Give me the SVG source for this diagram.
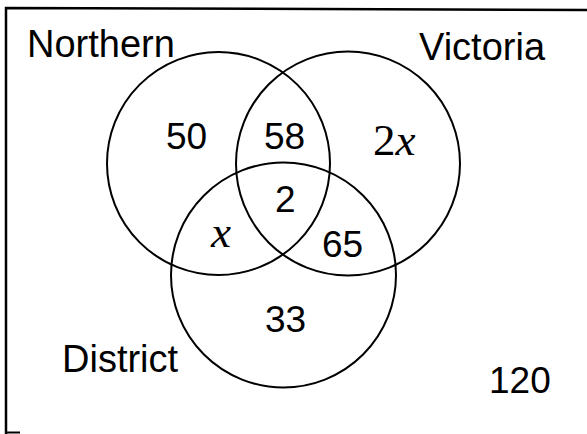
<svg xmlns="http://www.w3.org/2000/svg" width="587" height="434" viewBox="0 0 587 434">
<style>
.ring{fill:none;stroke:#000;stroke-width:2}
.lbl{font-family:"Liberation Sans",Arial,sans-serif;font-size:38px;fill:#000}
.num{font-family:"Liberation Sans",Arial,sans-serif;font-size:37px;fill:#000}
.math{font-family:"Liberation Serif","Times New Roman",serif;font-size:45px;fill:#000}
</style>
<rect width="587" height="434" fill="#fff"/>
<path d="M6 434 V8 L587 10" fill="none" stroke="#000" stroke-width="2.5"/>
<path d="M6 432.5 H20" fill="none" stroke="#000" stroke-width="2"/>
<g id="northern">
<circle class="ring" cx="218.5" cy="163.5" r="111.5"/>
<text class="lbl" x="27" y="57">Northern</text>
</g>
<g id="victoria">
<circle class="ring" cx="348" cy="163.5" r="112"/>
<text class="lbl" x="419" y="60">Victoria</text>
</g>
<g id="district">
<circle class="ring" cx="283.5" cy="275" r="112.5"/>
<text class="lbl" x="62" y="372">District</text>
</g>
<g id="regions">
<text class="num" x="166" y="149">50</text>
<text class="num" x="264" y="149">58</text>
<text class="math" x="373" y="155">2<tspan font-style="italic">x</tspan></text>
<text class="num" x="275" y="212">2</text>
<text class="math" x="211" y="247" font-style="italic">x</text>
<text class="num" x="322" y="257">65</text>
<text class="num" x="265" y="332">33</text>
<text class="num" x="489" y="393">120</text>
</g>
<g id="connectors"></g>
</svg>
